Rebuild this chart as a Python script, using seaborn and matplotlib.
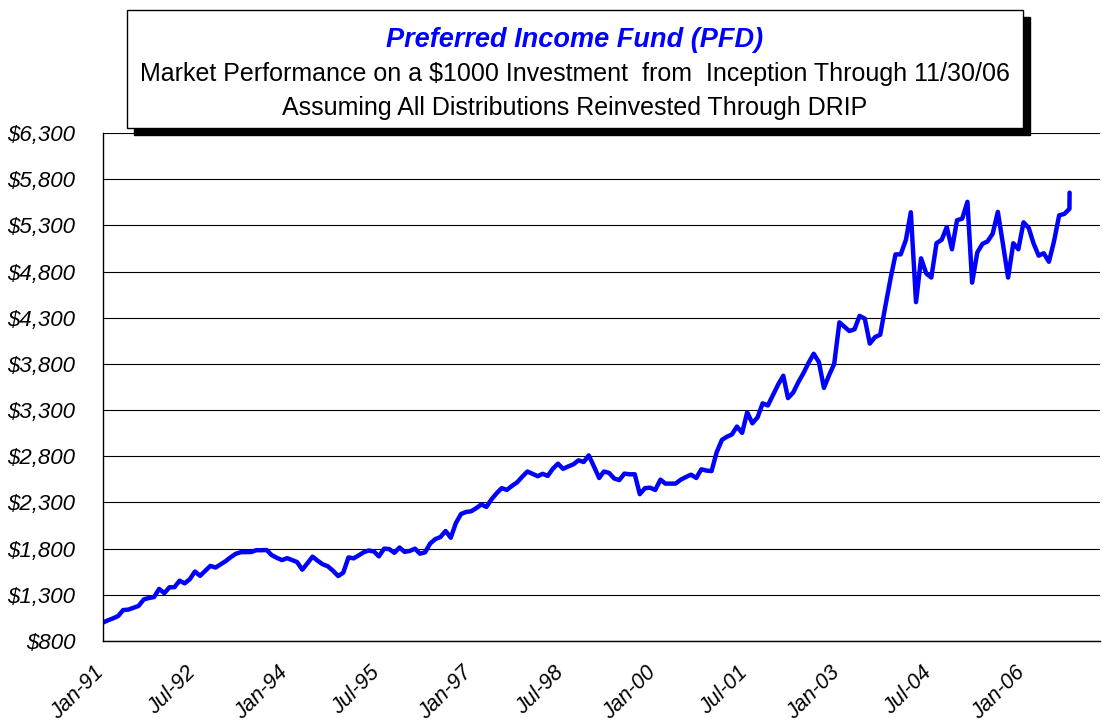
import pandas as pd
import matplotlib
matplotlib.use('Agg')
import matplotlib.pyplot as plt
from matplotlib.patches import Rectangle
import matplotlib.ticker as mticker
import matplotlib.transforms as mtransforms
import seaborn as sns

# --- Data (monthly from Jan-91) ---
values = [
    1000, 1025, 1045, 1070, 1135, 1140, 1160, 1180, 1251, 1265, 1276, 1364,
    1318, 1382, 1382, 1453, 1424, 1470, 1552, 1506, 1560, 1613, 1595, 1630,
    1666, 1710, 1744, 1762, 1762, 1763, 1783, 1783, 1785, 1730, 1700, 1676,
    1697, 1675, 1655, 1572, 1640, 1713, 1670, 1630, 1608, 1560, 1503, 1540,
    1705, 1695, 1725, 1760, 1780, 1770, 1716, 1800, 1795, 1755, 1812, 1765,
    1775, 1800, 1745, 1760, 1855, 1903, 1925, 1991, 1918, 2076, 2175, 2197,
    2205, 2240, 2278, 2252, 2333, 2400, 2455, 2436, 2481, 2518, 2580, 2635,
    2610, 2584, 2610, 2588, 2664, 2720, 2664, 2690, 2713, 2756, 2738, 2810,
    2690, 2565, 2635, 2620, 2560, 2542, 2612, 2605, 2605, 2390, 2455, 2460,
    2435, 2547, 2504, 2504, 2504, 2547, 2575, 2601, 2565, 2659, 2645, 2640,
    2846, 2978, 3010, 3036, 3122, 3053, 3276, 3157, 3222, 3373, 3350, 3460,
    3575, 3672, 3430, 3490, 3600, 3700, 3810, 3910, 3820, 3540, 3680, 3800,
    4250, 4200, 4156, 4175, 4320, 4290, 4020, 4090, 4116, 4420, 4720, 4986,
    4986, 5144, 5442, 4469, 4943, 4779, 4735, 5107, 5144, 5282, 5041, 5355,
    5373, 5555, 4680, 5008, 5099, 5127, 5209, 5446, 5090, 4735, 5107, 5041,
    5333, 5271, 5107, 4972, 4998, 4906, 5125, 5409, 5424, 5479,
    5654,
]
dates = list(pd.date_range('1991-01-01', periods=len(values) - 1, freq='MS'))
dates.append(dates[-1] + pd.Timedelta(days=1))  # final 11/30/06 value

tick_labels = ['Jan-91', 'Jul-92', 'Jan-94', 'Jul-95', 'Jan-97', 'Jul-98',
               'Jan-00', 'Jul-01', 'Jan-03', 'Jul-04', 'Jan-06']
y_ticks = list(range(800, 6301, 500))

title = 'Preferred Income Fund (PFD)'
subtitle1 = 'Market Performance on a $1000 Investment  from  Inception Through 11/30/06'
subtitle2 = 'Assuming All Distributions Reinvested Through DRIP'

df = pd.DataFrame({'Date': dates, 'Value': values})

# --- Plot ---
sns.set_theme(style="white")
plt.rcParams['font.family'] = ['Liberation Sans', 'DejaVu Sans']

fig = plt.figure(figsize=(11.03, 7.25), dpi=100)
ax = fig.add_axes([103 / 1103, 1 - 641 / 725, (1100 - 103) / 1103, (641 - 133) / 725])

sns.lineplot(data=df, x='Date', y='Value', color='#0000FF', linewidth=3.2, ax=ax)

ax.set_xlim(pd.Timestamp('1991-01-01'), pd.Timestamp('2007-04-01'))
ax.set_ylim(800, 6300)
ax.set_yticks(y_ticks)
ax.yaxis.set_major_formatter(mticker.FuncFormatter(lambda v, p: f'${v:,.0f}'))
ax.set_xticks(pd.to_datetime(tick_labels, format='%b-%y'))
ax.set_xticklabels(tick_labels, rotation=45, ha='right', rotation_mode='anchor')
ax.set_xlabel('')
ax.set_ylabel('')

ax.grid(axis='y', color='black', linewidth=0.8)
ax.grid(axis='x', visible=False)
for s in ['top', 'right']:
    ax.spines[s].set_visible(False)
for s in ['left', 'bottom']:
    ax.spines[s].set_color('black')
    ax.spines[s].set_linewidth(1.0)

ax.tick_params(axis='both', which='major', direction='out', length=5,
               width=1, color='black', labelsize=16, labelcolor='black')
ax.tick_params(axis='x', pad=10, labelsize=15.5)
ax.tick_params(axis='y', pad=15)

shift = mtransforms.ScaledTranslation(-7 / 72, 0, fig.dpi_scale_trans)
for lab in ax.get_xticklabels():
    lab.set_fontstyle('italic')
    lab.set_transform(lab.get_transform() + shift)
for lab in ax.get_yticklabels():
    lab.set_fontstyle('italic')

# --- Title box with drop shadow ---
bx0, bx1 = 127 / 1103, 1023 / 1103
by0, by1 = 1 - 128 / 725, 1 - 10 / 725
dx, dy = 7 / 1103, 7 / 725
fig.add_artist(Rectangle((bx0 + dx, by0 - dy), bx1 - bx0, by1 - by0,
                         transform=fig.transFigure, facecolor='black',
                         edgecolor='black', zorder=10))
fig.add_artist(Rectangle((bx0, by0), bx1 - bx0, by1 - by0,
                         transform=fig.transFigure, facecolor='white',
                         edgecolor='black', linewidth=1, zorder=11))
cx = (bx0 + bx1) / 2
fig.text(cx, 1 - 40 / 725, title, ha='center', va='center', fontsize=19.5,
         fontweight='bold', fontstyle='italic', color='#0000FF', zorder=12)
fig.text(cx, 1 - 74 / 725, subtitle1, ha='center', va='center', fontsize=18,
         color='black', zorder=12)
fig.text(cx, 1 - 108 / 725, subtitle2, ha='center', va='center', fontsize=18,
         color='black', zorder=12)

fig.savefig('out.png', dpi=100)
